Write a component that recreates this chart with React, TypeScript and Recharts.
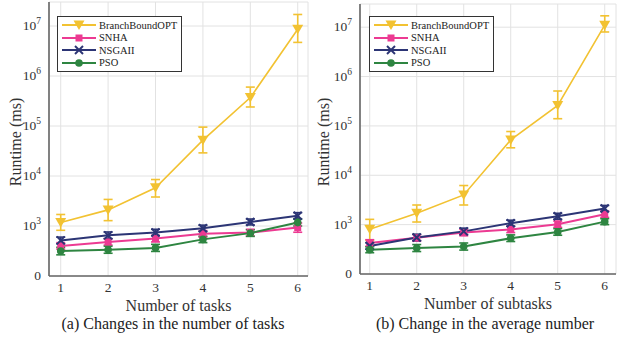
import React from 'react';
import { LineChart, Line, XAxis, YAxis, CartesianGrid, ErrorBar, Legend } from 'recharts';

// x positions shared by both panels
const steps = [1, 2, 3, 4, 5, 6];
const seriesNames = ['BranchBoundOPT', 'SNHA', 'NSGAII', 'PSO'];
const seriesKeys = ['bb', 'snha', 'nsga', 'pso'];
const seriesColors = ['#F2C232', '#EC3A92', '#2C3575', '#2E8541'];
const seriesShapes = ['tri', 'square', 'cross', 'circle'];
// log10 ticks; the lowest one (10^2) is labelled "0" in the original
const yTicks = [2, 3, 4, 5, 6, 7];

// (a) runtime in ms, with lower/upper error bounds
const bbA = [1170, 2100, 5800, 52000, 370000, 8600000];
const bbALo = [820, 1280, 3800, 29000, 240000, 4700000];
const bbAHi = [1700, 3400, 8500, 95000, 600000, 17000000];
const snhaA = [400, 480, 560, 700, 740, 930];
const snhaALo = [345, 415, 480, 600, 630, 750];
const snhaAHi = [465, 555, 650, 810, 860, 1150];
const nsgaA = [515, 650, 740, 900, 1200, 1600];
const nsgaALo = [440, 560, 640, 780, 1050, 1400];
const nsgaAHi = [600, 760, 860, 1040, 1380, 1850];
const psoA = [315, 335, 365, 540, 720, 1170];
const psoALo = [265, 285, 310, 465, 620, 1000];
const psoAHi = [375, 395, 430, 625, 840, 1370];

// (b)
const bbB = [810, 1700, 4000, 52000, 260000, 11000000];
const bbBLo = [480, 1130, 2500, 36000, 140000, 8000000];
const bbBHi = [1280, 2500, 6200, 77000, 510000, 17000000];
const snhaB = [425, 540, 690, 800, 1020, 1620];
const snhaBLo = [365, 465, 595, 690, 880, 1400];
const snhaBHi = [495, 625, 800, 930, 1180, 1880];
const nsgaB = [370, 550, 730, 1070, 1480, 2130];
const nsgaBLo = [320, 475, 630, 930, 1290, 1850];
const nsgaBHi = [430, 640, 850, 1230, 1700, 2450];
const psoB = [310, 335, 360, 530, 710, 1150];
const psoBLo = [270, 285, 305, 455, 610, 1000];
const psoBHi = [355, 395, 425, 620, 830, 1320];

const FONT = "'Liberation Serif', 'DejaVu Serif', 'Times New Roman', serif";

function buildRows(mids: number[][], los: number[][], his: number[][]) {
  return steps.map((x, i) => {
    const row: any = { x };
    seriesKeys.forEach((k, s) => {
      const v = Math.log10(mids[s][i]);
      row[k] = v;
      row[k + 'Err'] = [v - Math.log10(los[s][i]), Math.log10(his[s][i]) - v];
    });
    return row;
  });
}

const dataA = buildRows([bbA, snhaA, nsgaA, psoA], [bbALo, snhaALo, nsgaALo, psoALo], [bbAHi, snhaAHi, nsgaAHi, psoAHi]);
const dataB = buildRows([bbB, snhaB, nsgaB, psoB], [bbBLo, snhaBLo, nsgaBLo, psoBLo], [bbBHi, snhaBHi, nsgaBHi, psoBHi]);

function Marker({ cx, cy, shape, color }: any) {
  if (cx == null || cy == null) return null;
  if (shape === 'tri') {
    return <polygon points={`${cx - 5.5},${cy - 4.5} ${cx + 5.5},${cy - 4.5} ${cx},${cy + 5}`} fill={color} />;
  }
  if (shape === 'square') {
    return <rect x={cx - 3.5} y={cy - 3.5} width={7} height={7} fill={color} />;
  }
  if (shape === 'cross') {
    return (
      <g stroke={color} strokeWidth={2}>
        <line x1={cx - 4} y1={cy - 4} x2={cx + 4} y2={cy + 4} />
        <line x1={cx - 4} y1={cy + 4} x2={cx + 4} y2={cy - 4} />
      </g>
    );
  }
  return <circle cx={cx} cy={cy} r={3.8} fill={color} />;
}

const YTick = ({ x, y, payload }: any) => {
  const v = payload.value;
  if (v === 2) {
    return (
      <text x={x} y={y} dy={4} textAnchor="end" fontFamily={FONT} fontSize={13.5} fill="#333">0</text>
    );
  }
  return (
    <text x={x} y={y} dy={4} textAnchor="end" fontFamily={FONT} fontSize={13.5} fill="#333">
      <tspan>10</tspan>
      <tspan dy={-6} fontSize={9.5}>{v}</tspan>
    </text>
  );
};

const LegendBox = () => (
  <div style={{ border: '1px solid #333', background: '#fff', padding: '2px 4px 2px 3px', fontFamily: FONT, fontSize: 10.5, color: '#222' }}>
    {seriesNames.map((n, i) => (
      <div key={n} style={{ display: 'flex', alignItems: 'center', height: 12.5 }}>
        <svg width={36} height={12} style={{ marginRight: 2 }}>
          <line x1={1} y1={6} x2={35} y2={6} stroke={seriesColors[i]} strokeWidth={2} />
          <Marker cx={18} cy={6} shape={seriesShapes[i]} color={seriesColors[i]} />
        </svg>
        <span>{n}</span>
      </div>
    ))}
  </div>
);

function Panel({ data, xLabel, xDomain, yDomain, yWidth, margin, legendPos, width }: any) {
  const plotBottom = 343 - margin.bottom - 45;
  return (
    <LineChart width={width} height={343} data={data} margin={margin} style={{ fontFamily: FONT }}>
      <CartesianGrid stroke="#e2e2e2" strokeWidth={1} />
      <XAxis
        dataKey="x"
        type="number"
        domain={xDomain}
        ticks={steps}
        allowDataOverflow
        height={45}
        tickLine={false}
        axisLine={{ stroke: '#666', strokeWidth: 1.6 }}
        tick={(p: any) => (
          <text x={p.x} y={plotBottom + 16} textAnchor="middle" fontFamily={FONT} fontSize={13.5} fill="#333">
            {p.payload.value}
          </text>
        )}
        label={{
          content: (p: any) => {
            const vb = p.viewBox;
            return (
              <text x={vb.x + vb.width / 2} y={plotBottom + 35} textAnchor="middle" fontFamily={FONT} fontSize={16} fill="#333">
                {xLabel}
              </text>
            );
          },
        }}
      />
      <XAxis xAxisId="top" orientation="top" type="number" domain={xDomain} height={0} tick={false} tickLine={false} axisLine={{ stroke: '#999' }} />
      <YAxis
        type="number"
        domain={yDomain}
        ticks={yTicks}
        allowDataOverflow
        width={yWidth}
        tickLine={false}
        axisLine={{ stroke: '#666', strokeWidth: 1.6 }}
        tick={<YTick />}
        tickMargin={2}
        label={{
          content: (p: any) => {
            const vb = p.viewBox;
            const cy = vb.y + vb.height / 2 + 3;
            return (
              <text x={15} y={cy} transform={`rotate(-90 15 ${cy})`} textAnchor="middle" dominantBaseline="central" fontFamily={FONT} fontSize={16} fill="#333">
                Runtime (ms)
              </text>
            );
          },
        }}
      />
      <YAxis yAxisId="right" orientation="right" type="number" domain={yDomain} width={0} tick={false} tickLine={false} axisLine={{ stroke: '#999' }} />
      {seriesKeys.map((k, i) => (
        <Line
          key={k}
          dataKey={k}
          name={seriesNames[i]}
          stroke={seriesColors[i]}
          strokeWidth={i === 0 ? 1.6 : 2}
          isAnimationActive={false}
          dot={(p: any) => <Marker key={`${k}-${p.index}`} cx={p.cx} cy={p.cy} shape={seriesShapes[i]} color={seriesColors[i]} />}
          activeDot={false}
        >
          <ErrorBar dataKey={k + 'Err'} direction="y" width={4.5} stroke={seriesColors[i]} strokeWidth={1.6} isAnimationActive={false} />
        </Line>
      ))}
      <Legend
        layout="vertical"
        align="center"
        verticalAlign="middle"
        content={() => <LegendBox />}
        wrapperStyle={{ left: legendPos[0], top: legendPos[1], width: 'auto', height: 'auto' }}
      />
    </LineChart>
  );
}

export default function App() {
  return (
    <div style={{ position: 'absolute', left: 0, top: 0, width: 617, height: 343, background: '#fff', overflow: 'hidden' }}>
      <div style={{ position: 'absolute', left: 0, top: 0 }}>
        <Panel
          data={dataA}
          width={310}
          xLabel="Number of tasks"
          xDomain={[0.753, 6.217]}
          yDomain={[2, 7.48]}
          yWidth={49}
          margin={{ top: 2, right: 2, bottom: 22, left: 0 }}
          legendPos={[57, 16]}
        />
      </div>
      <div style={{ position: 'absolute', left: 308, top: 0 }}>
        <Panel
          data={dataB}
          width={309}
          xLabel="Number of subtasks"
          xDomain={[0.793, 6.24]}
          yDomain={[2, 7.47]}
          yWidth={52}
          margin={{ top: 4, right: 1, bottom: 24, left: 0 }}
          legendPos={[61, 16]}
        />
      </div>
      <div style={{ position: 'absolute', left: 0, width: 346, top: 315, textAlign: 'center', fontFamily: FONT, fontSize: 16, color: '#222' }}>
        (a) Changes in the number of tasks
      </div>
      <div style={{ position: 'absolute', left: 369, width: 232, top: 315, textAlign: 'center', fontFamily: FONT, fontSize: 16, color: '#222' }}>
        (b) Change in the average number
      </div>
    </div>
  );
}
